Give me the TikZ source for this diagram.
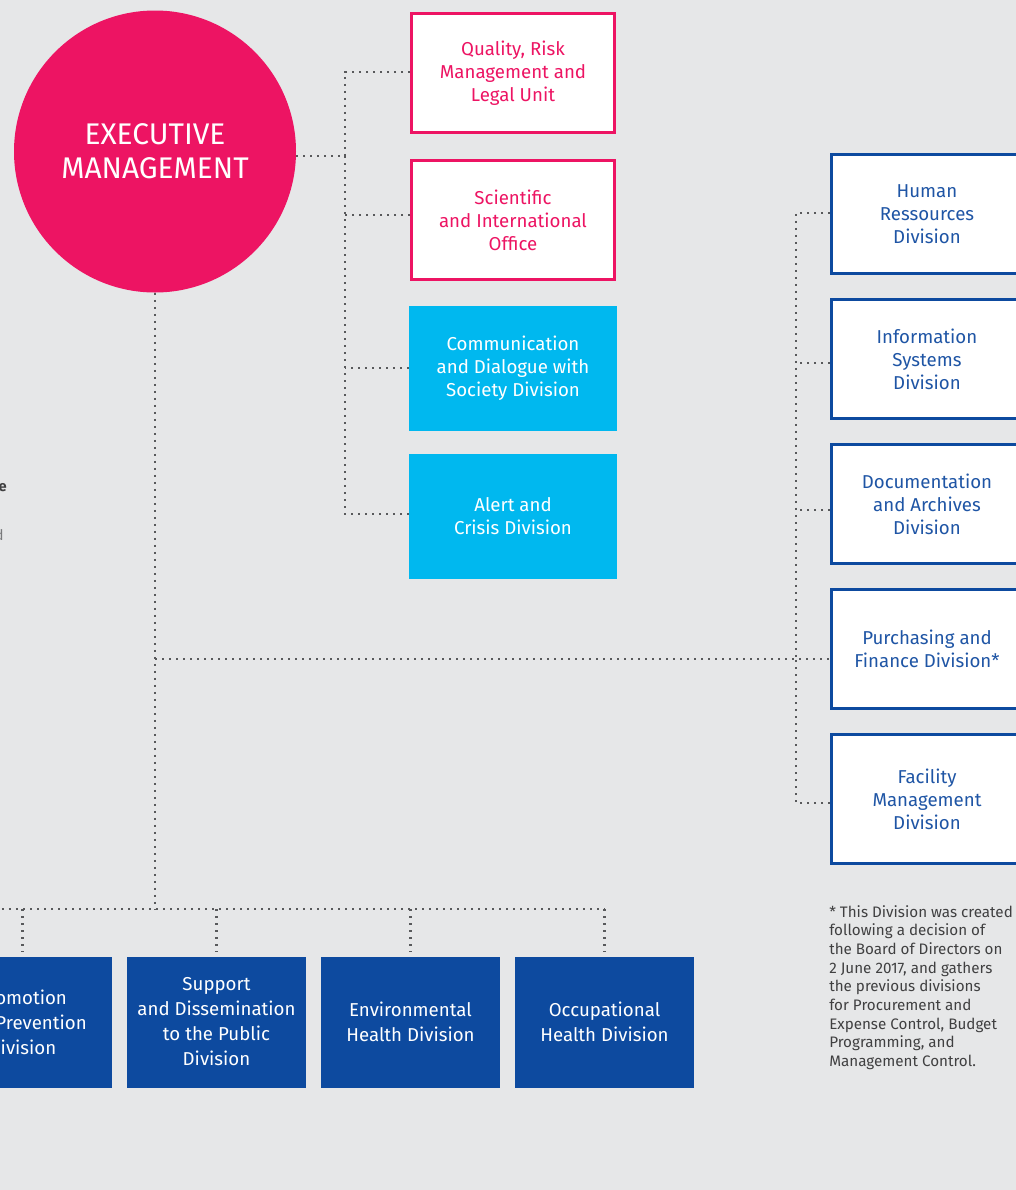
\documentclass[tikz,border=0pt]{standalone}
\usepackage{fontspec}
\setmainfont{Fira Sans}
\usepackage{tikz}

\definecolor{chartbg}{HTML}{E6E7E8}
\definecolor{chartpink}{HTML}{ED1463}
\definecolor{chartcyan}{HTML}{00B8EF}
\definecolor{chartblue}{HTML}{0D4A9F}
\definecolor{charttext}{HTML}{1F55A5}
\definecolor{chartdots}{HTML}{58595B}
\definecolor{chartnote}{HTML}{404041}

\tikzset{node distance=108.75pt, auto}
\tikzset{
  unit/.style={rectangle, align=center, inner sep=0pt,
    font=\fontsize{14}{17.25}\selectfont},
  pinkunit/.style={unit, draw=chartpink, line width=1.9pt, fill=white,
    text=chartpink, minimum width=152.5pt, minimum height=89.5pt},
  cyanunit/.style={unit, fill=chartcyan, text=white,
    minimum width=156pt, minimum height=93.75pt},
  support/.style={unit, draw=chartblue, line width=1.9pt, fill=white,
    text=charttext, minimum width=143.5pt, minimum height=89.5pt},
  division/.style={unit, fill=chartblue, text=white, font=\fontsize{14}{18.75}\selectfont,
    minimum width=134.25pt, minimum height=98.25pt},
  link/.style={draw=chartdots, line width=1.6pt, dash pattern=on 1.6pt off 3.65pt},
}

\begin{document}
\begin{tikzpicture}[x=0.75pt, y=-0.75pt]
  \fill[chartbg] (0,0) rectangle (1016,1190);
  \useasboundingbox (0,0) rectangle (1016,1190);

  % management
  \node (EM) [circle, fill=chartpink, text=white, minimum size=211.5pt, inner sep=0pt,
    align=center, font=\fontsize{22.4}{25.5}\fontseries{l}\selectfont] at (155,151.5) {EXECUTIVE\\MANAGEMENT};

  % units attached to the management
  \node (QR) [pinkunit] at (513,73) {Quality, Risk\\Management and\\Legal Unit};
  \node (SI) [pinkunit] at (513,220) {Scientific\\and International\\Office};
  \node (CD) [cyanunit] at (513,368) {Communication\\and Dialogue with\\Society Division};
  \node (AC) [cyanunit] at (513,516) {Alert and\\Crisis Division};

  % support divisions
  \node (HR) [support] at (927,214) {Human\\Ressources\\Division};
  \node (IS) [support, below of=HR] {Information\\Systems\\Division};
  \node (DA) [support, below of=IS] {Documentation\\and Archives\\Division};
  \node (PF) [support, below of=DA] {Purchasing and\\Finance Division*};
  \node (FM) [support, minimum height=97pt] at (927,799) {Facility\\Management\\Division};

  % scientific divisions
  \node (HP) [division] at (22.5,1022) {Promotion\\and Prevention\\Division};
  \node (SD) [division] at (216.5,1022) {Support\\and Dissemination\\to the Public\\Division};
  \node (EH) [division] at (410.5,1022) {Environmental\\Health Division};
  \node (OH) [division] at (604.5,1022) {Occupational\\Health Division};

  \node (note) [anchor=north west, align=left, inner sep=0pt, text=chartnote,
    font=\fontsize{11.4}{14}\selectfont] at (829,905)
    {* This Division was created\\following a decision of\\the Board of Directors on\\2 June 2017, and gathers\\the previous divisions\\for Procurement and\\Expense Control, Budget\\Programming, and\\Management Control.};

  \node (frag1) [anchor=east, inner sep=0pt, text=chartnote, font=\fontsize{11}{13}\bfseries] at (7,488) {e};
  \node (frag2) [anchor=east, inner sep=0pt, text=chartdots!80, font=\fontsize{11}{13}\selectfont] at (4,535) {d};

  % junctions
  \coordinate (J1) at (345,156);
  \coordinate (J2) at (796,659);
  \coordinate (J3) at (155,909);
  \coordinate (J4) at (-40,909);

  % connectors
  \draw[link] (EM.east |- J1) -- (J1);
  \draw[link] ([yshift=0.75pt]QR.west) -| (J1);
  \draw[link] ([yshift=1.5pt]AC.west) -| (J1);
  \draw[link] ([yshift=3.75pt]SI.west) -- ++(-65,0);
  \draw[link] (CD.west) -- (CD.west -| J1);

  \draw[link] (EM.south) -- (J3);
  \draw[link] (EM.south |- J2) -- (PF.west |- J2);
  \draw[link] ([yshift=0.75pt]HR.west) -| (J2);
  \draw[link] ([yshift=-3pt]FM.west) -| (J2);
  \draw[link] ([yshift=-3pt]IS.west) -- ++(-34,0);
  \draw[link] ([yshift=-4.5pt]DA.west) -- ++(-34,0);

  \draw[link] (J4) -- (OH.north |- J3);
  \foreach \n in {HP,SD,EH,OH}
    \draw[link, shorten >=3pt] (\n.north |- J3) -- (\n.north);
\end{tikzpicture}
\end{document}
